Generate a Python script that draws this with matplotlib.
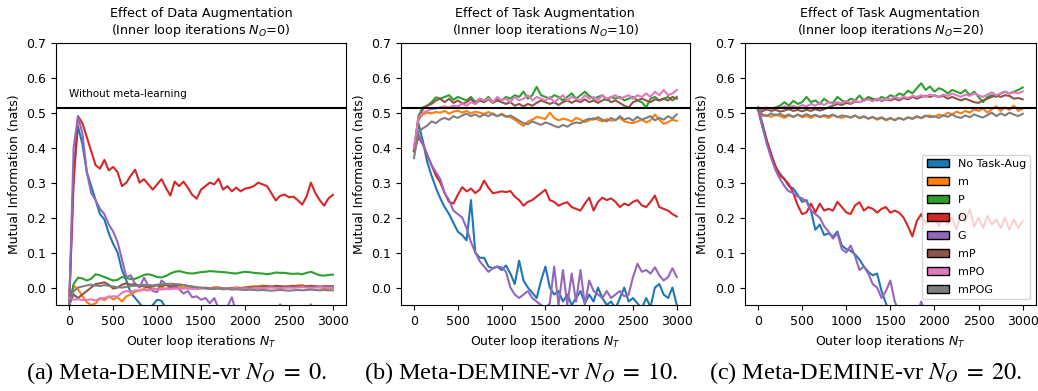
import matplotlib
matplotlib.use("Agg")
import matplotlib.pyplot as plt
from matplotlib.patches import Patch

# outer-loop iteration grid (every 50 iterations)
iters = list(range(0, 3001, 50))

labels = ["No Task-Aug", "m", "P", "O", "G", "mP", "mPO", "mPOG"]
colors = ["#1f77b4", "#ff7f0e", "#2ca02c", "#d62728",
          "#9467bd", "#8c564b", "#e377c2", "#7f7f7f"]
baseline = 0.512  # "Without meta-learning"

# ---------------------------------------------------------------------------
# (a) N_O = 0
# ---------------------------------------------------------------------------
a_none = [-0.05, 0.33, 0.46, 0.41, 0.33, 0.29, 0.25, 0.21, 0.195, 0.155,
          0.125, 0.10, 0.05, 0.02, -0.015, -0.03, -0.045, -0.06, -0.065, -0.05,
          -0.035, -0.038, -0.06, -0.08, -0.08, -0.08, -0.08, -0.08, -0.08, -0.08,
          -0.08, -0.08, -0.08, -0.08, -0.08, -0.08, -0.08, -0.08, -0.08, -0.08,
          -0.08, -0.08, -0.08, -0.08, -0.08, -0.08, -0.08, -0.08, -0.08, -0.08,
          -0.08, -0.08, -0.08, -0.08, -0.08, -0.08, -0.08, -0.08, -0.08, -0.08,
          -0.08]
a_m = [-0.05, 0.005, -0.005, -0.025, -0.042, -0.05, -0.045, -0.03, -0.036, -0.025,
       -0.034, -0.028, -0.04, -0.025, -0.02, -0.012, -0.008, -0.004, -0.008, -0.002,
       -0.005, 0.0, -0.004, 0.002, -0.002, 0.003, 0.0, -0.003, -0.001, -0.004,
       -0.002, 0.0, -0.003, 0.001, 0.0, -0.002, -0.004, -0.002, 0.001, -0.001,
       0.0, 0.002, 0.004, 0.003, 0.006, 0.004, 0.002, 0.003, 0.0, 0.002,
       0.001, 0.003, 0.006, 0.007, 0.003, 0.005, 0.002, 0.0, -0.002, -0.003,
       -0.002]
a_p = [-0.05, 0.01, 0.028, 0.026, 0.02, 0.025, 0.038, 0.035, 0.03, 0.025,
       0.02, 0.022, 0.03, 0.028, 0.024, 0.025, 0.03, 0.036, 0.038, 0.035,
       0.03, 0.029, 0.033, 0.04, 0.045, 0.047, 0.044, 0.041, 0.04, 0.042,
       0.044, 0.045, 0.047, 0.046, 0.045, 0.044, 0.043, 0.041, 0.04, 0.043,
       0.045, 0.044, 0.042, 0.041, 0.04, 0.038, 0.04, 0.043, 0.042, 0.042,
       0.04, 0.039, 0.04, 0.038, 0.042, 0.045, 0.04, 0.035, 0.034, 0.036,
       0.037]
a_o = [-0.04, 0.30, 0.49, 0.47, 0.43, 0.39, 0.35, 0.34, 0.365, 0.335,
       0.345, 0.33, 0.29, 0.30, 0.32, 0.337, 0.30, 0.31, 0.295, 0.28,
       0.295, 0.31, 0.285, 0.263, 0.303, 0.29, 0.303, 0.285, 0.265, 0.254,
       0.28, 0.29, 0.30, 0.295, 0.311, 0.28, 0.29, 0.275, 0.286, 0.275,
       0.283, 0.285, 0.29, 0.30, 0.295, 0.29, 0.27, 0.249, 0.262, 0.266,
       0.258, 0.26, 0.25, 0.237, 0.26, 0.30, 0.27, 0.25, 0.234, 0.255,
       0.265]
a_g = [-0.05, 0.40, 0.49, 0.44, 0.33, 0.27, 0.25, 0.225, 0.21, 0.18,
       0.16, 0.13, 0.08, 0.03, 0.035, 0.01, 0.0, 0.028, 0.005, -0.01,
       -0.013, 0.02, 0.01, 0.0, 0.005, -0.005, -0.017, -0.01, -0.028, -0.025,
       -0.035, -0.03, -0.045, -0.03, -0.06, -0.07, -0.055, -0.028, -0.07, -0.08,
       -0.08, -0.08, -0.08, -0.08, -0.08, -0.08, -0.08, -0.08, -0.048, -0.08,
       -0.08, -0.08, -0.08, -0.08, -0.08, -0.048, -0.08, -0.08, -0.08, -0.08,
       -0.08]
a_mp = [-0.05, -0.02, -0.03, -0.02, -0.01, 0.0, 0.01, 0.012, 0.015, 0.008,
        -0.003, 0.0, 0.008, 0.012, 0.008, 0.01, 0.005, 0.003, 0.0, 0.004,
        0.006, 0.004, 0.007, 0.005, 0.006, 0.008, 0.007, 0.004, 0.002, 0.0,
        -0.002, -0.001, -0.003, -0.002, 0.0, -0.002, -0.003, -0.001, -0.003, -0.002,
        0.0, 0.001, 0.0, 0.002, 0.003, 0.004, 0.003, 0.005, 0.004, 0.003,
        0.004, 0.005, 0.004, 0.003, 0.004, 0.005, 0.004, 0.003, 0.004, 0.004,
        0.004]
a_mpo = [-0.03, -0.035, -0.033, -0.036, -0.035, -0.034, -0.037, -0.032, -0.03, -0.027,
         -0.025, -0.026, -0.015, -0.01, -0.012, -0.008, -0.009, -0.007, -0.008, -0.006,
         -0.005, -0.006, -0.004, -0.005, -0.003, -0.004, -0.003, -0.002, -0.004, -0.003,
         -0.002, -0.003, -0.004, -0.003, -0.002, -0.003, -0.004, -0.003, -0.002, -0.003,
         -0.002, -0.003, -0.002, -0.001, -0.002, -0.001, 0.0, -0.001, -0.002, -0.001,
         0.0, -0.001, 0.0, 0.001, 0.0, -0.001, 0.0, 0.001, 0.0, 0.0,
         0.0]
a_mpog = [-0.05, -0.01, 0.0, 0.003, 0.006, 0.008, 0.006, 0.004, 0.007, 0.005,
          0.003, 0.001, 0.0, 0.002, 0.004, 0.005, 0.006, 0.008, 0.007, 0.006,
          0.008, 0.009, 0.010, 0.011, 0.010, 0.009, 0.007, 0.005, 0.003, 0.001,
          0.0, -0.002, -0.003, -0.004, -0.003, -0.005, -0.004, -0.006, -0.005, -0.006,
          -0.007, -0.006, -0.007, -0.008, -0.007, -0.008, -0.009, -0.008, -0.007, -0.008,
          -0.009, -0.008, -0.007, -0.008, -0.007, -0.006, -0.007, -0.008, -0.007, -0.008,
          -0.008]

# ---------------------------------------------------------------------------
# (b) N_O = 10
# ---------------------------------------------------------------------------
b_none = [0.39, 0.47, 0.42, 0.36, 0.32, 0.285, 0.255, 0.23, 0.21, 0.185,
          0.16, 0.15, 0.135, 0.25, 0.10, 0.085, 0.085, 0.06, 0.055, 0.06,
          0.05, 0.063, 0.04, 0.01, 0.077, 0.02, 0.0, -0.015, -0.03, 0.02,
          0.06, 0.0, -0.02, -0.01, -0.04, -0.02, -0.05, -0.03, -0.01, -0.045,
          -0.02, -0.04, 0.0, -0.03, -0.05, -0.04, -0.06, -0.03, 0.0, -0.04,
          -0.03, -0.045, -0.06, -0.03, -0.055, 0.0, 0.01, -0.02, -0.03, 0.0,
          -0.05]
b_m = [0.40, 0.48, 0.495, 0.50, 0.498, 0.502, 0.50, 0.505, 0.497, 0.503,
       0.506, 0.50, 0.505, 0.498, 0.503, 0.50, 0.496, 0.502, 0.495, 0.49,
       0.497, 0.49, 0.487, 0.48, 0.47, 0.462, 0.475, 0.48, 0.488, 0.485,
       0.482, 0.50, 0.485, 0.478, 0.483, 0.48, 0.475, 0.485, 0.48, 0.473,
       0.478, 0.485, 0.48, 0.475, 0.482, 0.477, 0.48, 0.485, 0.475, 0.472,
       0.47, 0.475, 0.48, 0.472, 0.478, 0.495, 0.48, 0.468, 0.473, 0.48,
       0.476]
b_p = [0.39, 0.49, 0.515, 0.52, 0.53, 0.544, 0.54, 0.545, 0.55, 0.537,
       0.545, 0.54, 0.535, 0.545, 0.53, 0.54, 0.535, 0.545, 0.53, 0.54,
       0.535, 0.545, 0.54, 0.55, 0.545, 0.56, 0.54, 0.55, 0.574, 0.55,
       0.545, 0.54, 0.55, 0.545, 0.535, 0.545, 0.555, 0.54, 0.55, 0.56,
       0.548, 0.54, 0.545, 0.55, 0.535, 0.545, 0.54, 0.545, 0.535, 0.54,
       0.545, 0.535, 0.53, 0.515, 0.54, 0.545, 0.535, 0.54, 0.545, 0.535,
       0.545]
b_o = [0.39, 0.43, 0.41, 0.38, 0.35, 0.32, 0.30, 0.27, 0.245, 0.24,
       0.265, 0.287, 0.275, 0.283, 0.27, 0.28, 0.306, 0.285, 0.27, 0.272,
       0.275, 0.273, 0.276, 0.26, 0.25, 0.234, 0.245, 0.25, 0.26, 0.27,
       0.28, 0.25, 0.245, 0.234, 0.24, 0.244, 0.23, 0.225, 0.22, 0.24,
       0.257, 0.22, 0.245, 0.257, 0.25, 0.255, 0.245, 0.23, 0.24, 0.235,
       0.245, 0.25, 0.235, 0.23, 0.245, 0.263, 0.23, 0.225, 0.22, 0.21,
       0.203]
b_g = [0.39, 0.44, 0.41, 0.38, 0.35, 0.33, 0.31, 0.27, 0.25, 0.22,
       0.21, 0.20, 0.17, 0.13, 0.10, 0.075, 0.06, 0.045, 0.055, 0.06,
       0.058, 0.045, 0.0, -0.02, -0.03, -0.02, -0.01, -0.03, -0.04, -0.05,
       -0.06, -0.045, 0.06, -0.05, 0.05, -0.05, 0.04, -0.04, 0.05, -0.05,
       0.02, -0.01, -0.02, -0.03, -0.01, -0.03, -0.02, -0.01, -0.025, -0.02,
       0.03, 0.068, 0.045, 0.05, 0.04, 0.058, 0.035, 0.02, 0.03, 0.055,
       0.03]
b_mp = [0.39, 0.48, 0.51, 0.52, 0.525, 0.535, 0.54, 0.53, 0.54, 0.528,
        0.535, 0.526, 0.53, 0.54, 0.525, 0.535, 0.53, 0.538, 0.528, 0.535,
        0.53, 0.525, 0.53, 0.52, 0.525, 0.518, 0.525, 0.52, 0.528, 0.535,
        0.53, 0.525, 0.53, 0.522, 0.53, 0.535, 0.528, 0.535, 0.53, 0.538,
        0.53, 0.535, 0.528, 0.535, 0.54, 0.53, 0.535, 0.528, 0.52, 0.515,
        0.53, 0.535, 0.54, 0.535, 0.53, 0.538, 0.535, 0.54, 0.535, 0.545,
        0.54]
b_mpo = [0.40, 0.485, 0.50, 0.505, 0.51, 0.512, 0.515, 0.518, 0.515, 0.52,
         0.518, 0.525, 0.52, 0.53, 0.525, 0.54, 0.535, 0.54, 0.53, 0.545,
         0.535, 0.54, 0.53, 0.545, 0.535, 0.54, 0.55, 0.535, 0.545, 0.54,
         0.535, 0.545, 0.53, 0.54, 0.55, 0.535, 0.545, 0.54, 0.535, 0.55,
         0.54, 0.545, 0.535, 0.55, 0.54, 0.545, 0.55, 0.54, 0.545, 0.55,
         0.54, 0.55, 0.545, 0.555, 0.545, 0.56, 0.55, 0.565, 0.55, 0.555,
         0.565]
b_mpog = [0.37, 0.445, 0.455, 0.463, 0.475, 0.47, 0.48, 0.485, 0.48, 0.49,
          0.485, 0.492, 0.497, 0.49, 0.495, 0.488, 0.495, 0.49, 0.498, 0.49,
          0.495, 0.488, 0.492, 0.485, 0.477, 0.47, 0.467, 0.475, 0.47, 0.465,
          0.472, 0.468, 0.462, 0.458, 0.465, 0.46, 0.468, 0.472, 0.47, 0.478,
          0.483, 0.48, 0.487, 0.48, 0.475, 0.485, 0.478, 0.49, 0.48, 0.485,
          0.477, 0.488, 0.48, 0.485, 0.49, 0.478, 0.485, 0.48, 0.49, 0.483,
          0.495]

# ---------------------------------------------------------------------------
# (c) N_O = 20
# ---------------------------------------------------------------------------
c_none = [0.51, 0.47, 0.42, 0.38, 0.345, 0.325, 0.31, 0.29, 0.283, 0.265,
          0.245, 0.25, 0.22, 0.165, 0.18, 0.15, 0.155, 0.145, 0.16, 0.12,
          0.11, 0.105, 0.095, 0.08, 0.06, 0.045, 0.035, 0.04, -0.01, -0.045,
          -0.08, -0.08, -0.08, -0.08, -0.08, -0.08, -0.08, -0.08, -0.08, -0.08,
          -0.08, -0.08, -0.08, -0.08, -0.08, -0.08, -0.08, -0.08, -0.08, -0.08,
          -0.08, -0.08, -0.08, -0.08, -0.08, -0.08, -0.08, -0.08, -0.08, -0.08,
          -0.08]
c_m = [0.51, 0.49, 0.493, 0.488, 0.495, 0.49, 0.485, 0.492, 0.488, 0.495,
       0.487, 0.49, 0.485, 0.492, 0.487, 0.49, 0.485, 0.493, 0.488, 0.485,
       0.49, 0.486, 0.492, 0.484, 0.488, 0.483, 0.487, 0.48, 0.485, 0.478,
       0.483, 0.48, 0.485, 0.48, 0.486, 0.482, 0.488, 0.484, 0.49, 0.492,
       0.488, 0.495, 0.49, 0.50, 0.495, 0.503, 0.498, 0.505, 0.50, 0.51,
       0.505, 0.512, 0.50, 0.51, 0.518, 0.505, 0.515, 0.508, 0.52, 0.505,
       0.512]
c_p = [0.51, 0.505, 0.51, 0.508, 0.515, 0.52, 0.53, 0.52, 0.534, 0.525,
       0.53, 0.545, 0.53, 0.535, 0.525, 0.54, 0.53, 0.528, 0.545, 0.535,
       0.53, 0.54, 0.535, 0.549, 0.535, 0.545, 0.54, 0.535, 0.545, 0.54,
       0.55, 0.545, 0.555, 0.55, 0.563, 0.555, 0.57, 0.584, 0.565, 0.575,
       0.56, 0.57, 0.565, 0.555, 0.565, 0.56, 0.555, 0.565, 0.55, 0.56,
       0.545, 0.53, 0.545, 0.55, 0.545, 0.555, 0.56, 0.555, 0.56, 0.565,
       0.572]
c_o = [0.51, 0.46, 0.42, 0.38, 0.345, 0.32, 0.31, 0.295, 0.27, 0.235,
       0.21, 0.215, 0.24, 0.215, 0.24, 0.22, 0.225, 0.22, 0.245, 0.23,
       0.215, 0.21, 0.235, 0.244, 0.22, 0.23, 0.225, 0.214, 0.225, 0.23,
       0.214, 0.22, 0.214, 0.20, 0.175, 0.146, 0.19, 0.21, 0.185, 0.19,
       0.20, 0.175, 0.21, 0.18, 0.20, 0.165, 0.21, 0.19, 0.224, 0.175,
       0.20, 0.17, 0.205, 0.18, 0.195, 0.17, 0.20, 0.165, 0.195, 0.17,
       0.19]
c_g = [0.51, 0.46, 0.41, 0.37, 0.335, 0.31, 0.29, 0.275, 0.27, 0.26,
       0.255, 0.245, 0.22, 0.21, 0.20, 0.175, 0.16, 0.14, 0.155, 0.11,
       0.10, 0.12, 0.09, 0.05, 0.06, 0.04, 0.01, 0.0, -0.03, -0.01,
       0.02, -0.04, -0.07, -0.08, -0.08, -0.08, -0.08, -0.04, -0.08, -0.08,
       -0.08, -0.08, -0.08, -0.08, -0.08, -0.08, -0.08, -0.08, -0.08, -0.08,
       -0.08, -0.08, -0.08, -0.08, -0.08, -0.08, -0.08, -0.08, -0.08, -0.08,
       -0.08]
c_mp = [0.51, 0.505, 0.51, 0.505, 0.508, 0.503, 0.506, 0.51, 0.505, 0.508,
        0.504, 0.508, 0.505, 0.51, 0.506, 0.51, 0.515, 0.52, 0.525, 0.522,
        0.528, 0.525, 0.532, 0.53, 0.536, 0.54, 0.535, 0.54, 0.533, 0.538,
        0.535, 0.54, 0.535, 0.542, 0.538, 0.545, 0.54, 0.545, 0.548, 0.545,
        0.55, 0.545, 0.548, 0.54, 0.545, 0.54, 0.535, 0.54, 0.535, 0.53,
        0.528, 0.535, 0.54, 0.545, 0.55, 0.545, 0.55, 0.548, 0.54, 0.542,
        0.538]
c_mpo = [0.515, 0.51, 0.515, 0.51, 0.515, 0.512, 0.518, 0.515, 0.52, 0.515,
         0.522, 0.518, 0.525, 0.52, 0.528, 0.522, 0.53, 0.525, 0.53, 0.527,
         0.533, 0.528, 0.535, 0.53, 0.534, 0.538, 0.532, 0.54, 0.535, 0.54,
         0.538, 0.545, 0.54, 0.545, 0.542, 0.548, 0.545, 0.55, 0.545, 0.552,
         0.548, 0.545, 0.552, 0.548, 0.555, 0.55, 0.545, 0.552, 0.548, 0.555,
         0.55, 0.545, 0.552, 0.558, 0.55, 0.555, 0.56, 0.555, 0.558, 0.555,
         0.561]
c_mpog = [0.515, 0.495, 0.49, 0.498, 0.492, 0.497, 0.49, 0.495, 0.488, 0.494,
          0.49, 0.496, 0.49, 0.494, 0.488, 0.493, 0.49, 0.495, 0.487, 0.492,
          0.49, 0.486, 0.492, 0.485, 0.49, 0.483, 0.488, 0.482, 0.487, 0.48,
          0.485, 0.478, 0.485, 0.48, 0.487, 0.483, 0.49, 0.485, 0.492, 0.487,
          0.49, 0.485, 0.493, 0.488, 0.495, 0.488, 0.485, 0.492, 0.487, 0.495,
          0.49, 0.486, 0.493, 0.50, 0.49, 0.498, 0.492, 0.50, 0.495, 0.49,
          0.497]

panels = [
    ([a_none, a_m, a_p, a_o, a_g, a_mp, a_mpo, a_mpog],
     "Effect of Data Augmentation\n(Inner loop iterations $N_O$=0)",
     r"(a) Meta-DEMINE-vr $N_O\;=\;0.$"),
    ([b_none, b_m, b_p, b_o, b_g, b_mp, b_mpo, b_mpog],
     "Effect of Task Augmentation\n(Inner loop iterations $N_O$=10)",
     r"(b) Meta-DEMINE-vr $N_O\;=\;10.$"),
    ([c_none, c_m, c_p, c_o, c_g, c_mp, c_mpo, c_mpog],
     "Effect of Task Augmentation\n(Inner loop iterations $N_O$=20)",
     r"(c) Meta-DEMINE-vr $N_O\;=\;20.$"),
]

plt.rcParams.update({
    "font.family": "DejaVu Sans",
    "font.size": 9,
    "axes.linewidth": 0.8,
})

fig = plt.figure(figsize=(10.38, 3.91), dpi=100)
rects = [
    [0.0540, 0.2199, 0.2794, 0.6708],
    [0.3862, 0.2199, 0.2785, 0.6708],
    [0.7175, 0.2199, 0.2805, 0.6708],
]
caption_x = [0.170, 0.502, 0.834]

for i, (series, title, caption) in enumerate(panels):
    ax = fig.add_axes(rects[i])
    for vals, lab, col in zip(series, labels, colors):
        ax.plot(iters, vals, color=col, lw=1.5, label=lab)
    ax.axhline(baseline, color="black", lw=1.5)
    if i == 0:
        ax.text(0, 0.545, "Without meta-learning", fontsize=7.5)
    ax.set_xlim(-150, 3150)
    ax.set_ylim(-0.05, 0.7)
    ax.set_xticks([0, 500, 1000, 1500, 2000, 2500, 3000])
    ax.set_yticks([0.0, 0.1, 0.2, 0.3, 0.4, 0.5, 0.6, 0.7])
    ax.set_title(title, fontsize=9.2)
    ax.set_xlabel("Outer loop iterations $N_T$", fontsize=9)
    ax.set_ylabel("Mutual Information (nats)", fontsize=9)
    ax.tick_params(labelsize=9)
    fig.text(caption_x[i], 0.046, caption, ha="center", va="center", fontsize=17.5,
             family="Liberation Serif", math_fontfamily="stix")
    if i == 2:
        handles = [Patch(facecolor=c, edgecolor="black", label=l)
                   for c, l in zip(colors, labels)]
        ax.legend(handles=handles, loc="lower right", fontsize=8,
                  labelspacing=0.72, borderaxespad=0.5)

fig.savefig("out.png", dpi=100)
